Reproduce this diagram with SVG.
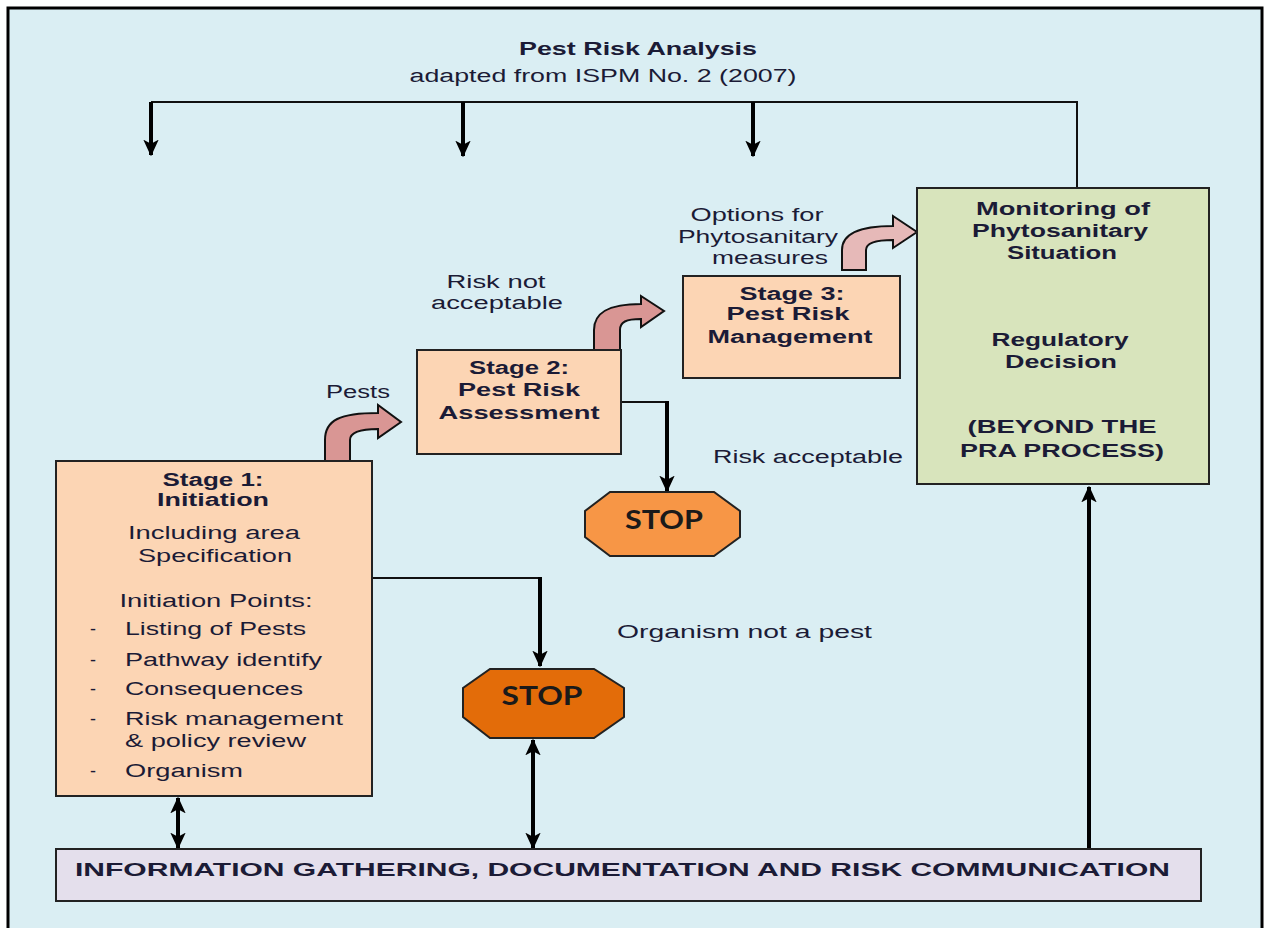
<svg xmlns="http://www.w3.org/2000/svg" width="1265" height="928" viewBox="0 0 1265 928">
<style>
.t{font-family:"Liberation Sans",Arial,sans-serif;font-size:18px;fill:#1b1b36}
.b{font-weight:bold}
.m{text-anchor:middle}
.box{fill:#FCD5B4;stroke:#222;stroke-width:2}
.thin{fill:none;stroke:#111;stroke-width:2}
.thick{fill:none;stroke:#000;stroke-width:4}
.stop{font-family:Lato,"Open Sans",sans-serif;font-weight:bold;font-size:26px;fill:#1a1a1a;text-anchor:middle}
.curve{stroke:#111;stroke-width:2}
</style>
<defs>
<marker id="ah" viewBox="0 0 12 12" refX="11" refY="6" markerWidth="4.2" markerHeight="4.2" orient="auto-start-reverse" markerUnits="strokeWidth">
<path d="M0,0.5 L12,6 L0,11.5 L3,6 Z" fill="#000"/>
</marker>
</defs>
<rect x="8" y="8" width="1254" height="935" fill="#DAEEF3" stroke="#000" stroke-width="3"/>
<g id="title">
<text class="t b m" x="638" y="55" textLength="238" lengthAdjust="spacingAndGlyphs">Pest Risk Analysis</text>
<text class="t m" x="603" y="82" textLength="387" lengthAdjust="spacingAndGlyphs">adapted from ISPM No. 2 (2007)</text>
</g>
<g id="connectors">
<polyline class="thin" points="151,102 1077,102 1077,188"/>
<line class="thick" x1="151" y1="102" x2="151" y2="155" marker-end="url(#ah)"/>
<line class="thick" x1="463" y1="102" x2="463" y2="156" marker-end="url(#ah)"/>
<line class="thick" x1="753" y1="102" x2="753" y2="156" marker-end="url(#ah)"/>
<polyline class="thin" points="621,402 667,402"/>
<line class="thick" x1="667" y1="401" x2="667" y2="491" marker-end="url(#ah)"/>
<polyline class="thin" points="372,578 540,578"/>
<line class="thick" x1="540" y1="577" x2="540" y2="666" marker-end="url(#ah)"/>
<line class="thick" x1="178" y1="798" x2="178" y2="848" marker-start="url(#ah)" marker-end="url(#ah)"/>
<line class="thick" x1="533" y1="740" x2="533" y2="848" marker-start="url(#ah)" marker-end="url(#ah)"/>
<line class="thick" x1="1089" y1="849" x2="1089" y2="487" marker-end="url(#ah)"/>
<path class="curve" fill="#D99694" d="M325,461 L325,440 C325,420 340,413 378,413 L378,405 L401,422 L378,438 L378,429 C360,429 350,432 350,440 L350,461 Z"/>
<path class="curve" fill="#D99694" d="M594,350 L594,330 C594,314 606,304 641,304 L641,296 L664,311 L641,327 L641,319 C626,319 620,322 620,330 L620,350 Z"/>
<path class="curve" fill="#E6B9B8" d="M842,270 L842,250 C842,236 855,226 893,226 L893,216 L917,232 L893,248 L893,240 C875,240 866,243 866,250 L866,270 Z"/>
</g>
<g id="labels">
<text class="t m" x="757" y="221" textLength="133" lengthAdjust="spacingAndGlyphs">Options for</text>
<text class="t m" x="758" y="243" textLength="160" lengthAdjust="spacingAndGlyphs">Phytosanitary</text>
<text class="t m" x="770" y="264" textLength="116" lengthAdjust="spacingAndGlyphs">measures</text>
<text class="t m" x="496" y="288" textLength="99" lengthAdjust="spacingAndGlyphs">Risk not</text>
<text class="t m" x="497" y="309" textLength="132" lengthAdjust="spacingAndGlyphs">acceptable</text>
<text class="t" x="326" y="398" textLength="64" lengthAdjust="spacingAndGlyphs">Pests</text>
<text class="t" x="713" y="463" textLength="190" lengthAdjust="spacingAndGlyphs">Risk acceptable</text>
<text class="t" x="617" y="638" textLength="255" lengthAdjust="spacingAndGlyphs">Organism not a pest</text>
</g>
<g id="stage1">
<rect class="box" x="56" y="461" width="316" height="335"/>
<text class="t b m" x="213" y="486" textLength="101" lengthAdjust="spacingAndGlyphs">Stage 1:</text>
<text class="t b m" x="213" y="506" textLength="112" lengthAdjust="spacingAndGlyphs">Initiation</text>
<text class="t m" x="214" y="539" textLength="172" lengthAdjust="spacingAndGlyphs">Including area</text>
<text class="t m" x="215" y="562" textLength="154" lengthAdjust="spacingAndGlyphs">Specification</text>
<text class="t m" x="216" y="607" textLength="193" lengthAdjust="spacingAndGlyphs">Initiation Points:</text>
<text class="t" x="90" y="635">-</text>
<text class="t" x="125" y="635" textLength="181" lengthAdjust="spacingAndGlyphs">Listing of Pests</text>
<text class="t" x="90" y="666">-</text>
<text class="t" x="125" y="666" textLength="197" lengthAdjust="spacingAndGlyphs">Pathway identify</text>
<text class="t" x="90" y="695">-</text>
<text class="t" x="125" y="695" textLength="178" lengthAdjust="spacingAndGlyphs">Consequences</text>
<text class="t" x="90" y="725">-</text>
<text class="t" x="125" y="725" textLength="218" lengthAdjust="spacingAndGlyphs">Risk management</text>
<text class="t" x="125" y="747" textLength="181" lengthAdjust="spacingAndGlyphs">&amp; policy review</text>
<text class="t" x="90" y="777">-</text>
<text class="t" x="125" y="777" textLength="118" lengthAdjust="spacingAndGlyphs">Organism</text>
</g>
<g id="stage2">
<rect class="box" x="417" y="350" width="204" height="104"/>
<text class="t b m" x="519" y="374" textLength="100" lengthAdjust="spacingAndGlyphs">Stage 2:</text>
<text class="t b m" x="519" y="396" textLength="122" lengthAdjust="spacingAndGlyphs">Pest Risk</text>
<text class="t b m" x="519" y="419" textLength="161" lengthAdjust="spacingAndGlyphs">Assessment</text>
</g>
<g id="stage3">
<rect class="box" x="683" y="276" width="217" height="102"/>
<text class="t b m" x="792" y="300" textLength="105" lengthAdjust="spacingAndGlyphs">Stage 3:</text>
<text class="t b m" x="788" y="320" textLength="123" lengthAdjust="spacingAndGlyphs">Pest Risk</text>
<text class="t b m" x="790" y="343" textLength="165" lengthAdjust="spacingAndGlyphs">Management</text>
</g>
<g id="monitoring">
<rect x="917" y="188" width="292" height="296" fill="#D8E4BC" stroke="#222" stroke-width="2"/>
<text class="t b m" x="1063" y="215" textLength="174" lengthAdjust="spacingAndGlyphs">Monitoring of</text>
<text class="t b m" x="1060" y="237" textLength="176" lengthAdjust="spacingAndGlyphs">Phytosanitary</text>
<text class="t b m" x="1062" y="259" textLength="110" lengthAdjust="spacingAndGlyphs">Situation</text>
<text class="t b m" x="1060" y="346" textLength="137" lengthAdjust="spacingAndGlyphs">Regulatory</text>
<text class="t b m" x="1061" y="368" textLength="112" lengthAdjust="spacingAndGlyphs">Decision</text>
<text class="t b m" x="1062" y="433" textLength="189" lengthAdjust="spacingAndGlyphs">(BEYOND THE</text>
<text class="t b m" x="1062" y="457" textLength="204" lengthAdjust="spacingAndGlyphs">PRA PROCESS)</text>
</g>
<g id="stop1">
<polygon points="610,492 714,492 740,511 740,537 714,556 610,556 585,537 585,511" fill="#F79646" stroke="#222" stroke-width="2"/>
<text class="stop" x="664" y="529" textLength="78" lengthAdjust="spacingAndGlyphs">STOP</text>
</g>
<g id="stop2">
<polygon points="490,669 594,669 624,688 624,717 594,738 490,738 463,717 463,688" fill="#E36C09" stroke="#222" stroke-width="2"/>
<text class="stop" x="542" y="705" textLength="81" lengthAdjust="spacingAndGlyphs">STOP</text>
</g>
<g id="info">
<rect x="56" y="849" width="1145" height="52" fill="#E4DFEC" stroke="#222" stroke-width="2"/>
<text class="t b" x="75" y="876" font-size="19" textLength="1095" lengthAdjust="spacingAndGlyphs">INFORMATION GATHERING, DOCUMENTATION AND RISK COMMUNICATION</text>
</g>
</svg>
